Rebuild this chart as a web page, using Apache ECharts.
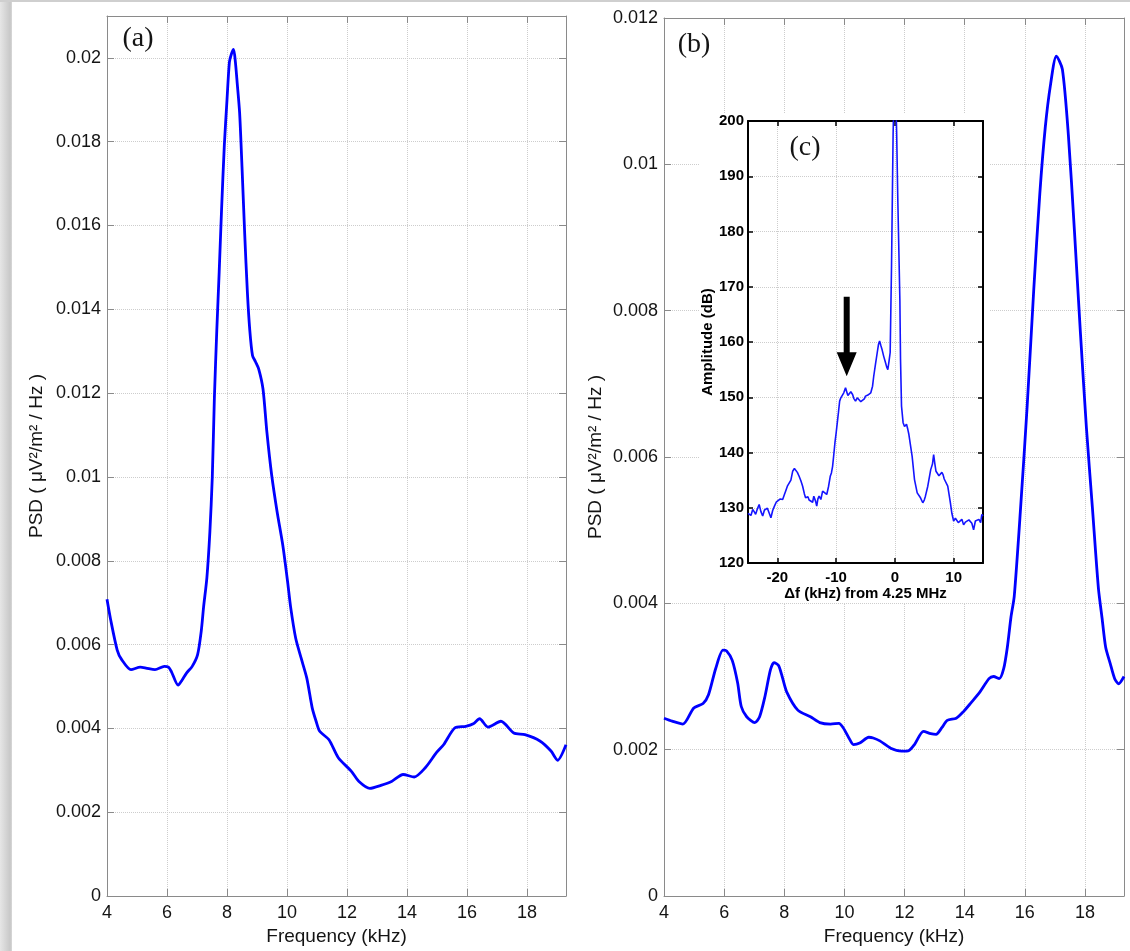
<!DOCTYPE html>
<html>
<head>
<meta charset="utf-8">
<script src="https://cdn.jsdelivr.net/npm/echarts@6/dist/echarts.min.js"></script>
<style>
  html, body { margin: 0; padding: 0; background: #ffffff; }
  #chart { width: 1130px; height: 951px; }
</style>
</head>
<body>
<div id="chart"></div>
<script>
// ---------------- data ----------------
// Panel (a): PSD vs frequency
const freqA = [4.00, 4.12, 4.34, 4.49, 4.80, 5.11, 5.30, 5.60, 5.91, 6.05, 6.15, 6.37, 6.50, 6.65, 6.84, 7.02, 7.14, 7.22,
  7.33, 7.43, 7.51, 7.58, 7.66, 7.74, 7.82, 7.91, 8.00, 8.08, 8.15, 8.22, 8.28, 8.34, 8.42, 8.50, 8.59, 8.68, 8.76, 8.85,
  8.95, 9.06, 9.20, 9.33, 9.49, 9.67, 9.86, 10.02, 10.12, 10.29, 10.47, 10.66, 10.84, 10.97, 11.09, 11.40, 11.71,
  12.14, 12.39, 12.76, 13.13, 13.50, 13.87, 14.24, 14.61, 14.98, 15.22, 15.59, 15.96, 16.21, 16.42, 16.70, 17.13,
  17.56, 17.93, 18.43, 18.80, 19.02, 19.30];
const psdA = [0.00708, 0.0066, 0.00587, 0.00564, 0.00540, 0.00546, 0.00544, 0.00540, 0.00548, 0.00546, 0.00535, 0.00503,
  0.00515, 0.00532, 0.00548, 0.00576, 0.00631, 0.0069, 0.0076, 0.0087, 0.0100, 0.0119, 0.0135, 0.0149, 0.0164,
  0.0179, 0.0190, 0.0199, 0.0201, 0.0202, 0.0199, 0.0194, 0.0187, 0.0174, 0.0158, 0.0144, 0.0135, 0.0129, 0.01275,
  0.01257, 0.0121, 0.01107, 0.01004, 0.00917, 0.00837, 0.0075, 0.0069, 0.00615, 0.00568, 0.0052, 0.00449, 0.00417,
  0.00393, 0.00373, 0.0033, 0.00298, 0.00274, 0.00257, 0.00264, 0.00274, 0.0029, 0.00284, 0.00306, 0.00342, 0.00361,
  0.00401, 0.00405, 0.00411, 0.00423, 0.00403, 0.00417, 0.00389, 0.00385, 0.0037, 0.00346, 0.00324, 0.00361];

// Panel (b): PSD vs frequency
const freqB = [4.00, 4.27, 4.63, 4.99, 5.30, 5.48, 5.72, 5.96, 6.08, 6.27, 6.45, 6.57, 6.75, 7.02, 7.18, 7.36, 7.54, 7.66,
  7.81, 7.93, 8.08, 8.45, 8.87, 9.18, 9.54, 9.82, 9.96, 10.15, 10.30, 10.51, 10.81, 10.96, 11.18, 11.54, 11.90, 12.15,
  12.33, 12.63, 12.87, 13.05, 13.24, 13.42, 13.72, 13.96, 14.21, 14.51, 14.81, 14.96, 15.15, 15.30, 15.42, 15.54,
  15.65, 15.86, 16.08, 16.30, 16.50, 16.68, 16.86, 17.05, 17.25, 17.45, 17.65, 17.85, 18.05, 18.25, 18.45, 18.57,
  18.69, 18.84, 18.99, 19.12, 19.30];
const psdB = [0.00243, 0.00239, 0.00235, 0.00257, 0.00263, 0.00275, 0.00311, 0.00336, 0.00335, 0.00322, 0.00291, 0.00259,
  0.00245, 0.00237, 0.00245, 0.00273, 0.00309, 0.00319, 0.00315, 0.00300, 0.00279, 0.00254, 0.00245, 0.00237, 0.00235,
  0.00236, 0.00230, 0.00216, 0.00207, 0.00209, 0.00217, 0.00216, 0.00212, 0.00202, 0.00198, 0.00199, 0.00207, 0.00225,
  0.00222, 0.00221, 0.00230, 0.00240, 0.00243, 0.00252, 0.00264, 0.00279, 0.00297, 0.00300, 0.00297, 0.00311, 0.00340,
  0.00381, 0.00410, 0.0053, 0.0067, 0.0083, 0.0096, 0.0105, 0.0111, 0.01148, 0.0113, 0.0104, 0.0091, 0.0077, 0.0064,
  0.0053, 0.0042, 0.0038, 0.0034, 0.00318, 0.00297, 0.0029, 0.0030];

// Panel (c) inset: amplitude vs frequency offset from 4.25 MHz
const dfC = [-25.0, -24.8, -24.5, -24.2, -23.9, -23.7, -23.4, -23.1, -22.8, -22.5, -22.2, -22.0, -21.7, -21.4, -21.1,
  -20.8, -20.5, -20.2, -19.9, -19.5, -19.1, -18.8, -18.6, -18.3, -18.0, -17.7, -17.4, -17.1, -16.9, -16.6, -16.3, -16.0,
  -15.7, -15.4, -15.2, -14.8, -14.6, -14.3, -14.0, -13.8, -13.5, -13.3, -13.1, -12.9, -12.6, -12.3, -12.0, -11.6, -11.3,
  -11.0, -10.8, -10.6, -10.4, -10.2, -10.0, -9.8, -9.6, -9.4, -9.2, -8.9, -8.7, -8.4, -8.2, -8.0, -7.8, -7.5, -7.2, -7.0,
  -6.7, -6.4, -6.1, -5.8, -5.5, -5.2, -5.0, -4.6, -4.1, -3.8, -3.6, -3.3, -3.0, -2.8, -2.6, -2.4, -2.2, -1.9, -1.6, -1.4,
  -1.2, -1.0, -0.8, -0.57, -0.3, 0.0, 0.3, 0.5, 0.85, 0.96, 1.13, 1.4, 1.64, 1.98, 2.2, 2.38, 2.66, 2.94, 3.34, 3.8, 4.1,
  4.36, 4.75, 5.0, 5.2, 5.6, 6.1, 6.4, 6.6, 6.8, 7.0, 7.3, 7.5, 7.75, 8.0, 8.2, 8.4, 8.6, 9.0, 9.45, 9.7, 10.0, 10.3,
  10.6, 10.8, 11.1, 11.4, 11.7, 12.0, 12.3, 12.6, 12.8, 13.1, 13.4, 13.7, 14.0, 14.3, 14.6, 14.8, 15.0];
const ampC = [129.0, 129.1, 128.6, 129.7, 129.2, 128.8, 129.8, 130.6, 129.3, 128.5, 129.6, 129.4, 129.9, 129.7, 128.2,
  129.5, 130.3, 131.0, 131.2, 131.6, 131.5, 132.4, 133.0, 133.9, 133.6, 135.0, 136.6, 137.1, 136.9, 136.4, 135.7, 134.9,
  133.9, 132.5, 131.8, 132.0, 131.4, 131.5, 131.0, 132.1, 131.2, 130.3, 131.6, 132.1, 131.5, 133.0, 132.8, 132.4, 133.8,
  135.7, 136.3, 137.5, 139.6, 141.8, 143.5, 145.4, 147.3, 149.3, 149.9, 150.2, 150.8, 151.7, 151.0, 150.3, 150.5, 151.0,
  150.5, 149.8, 149.3, 149.9, 149.6, 149.2, 149.0, 149.7, 150.2, 150.4, 150.8, 152.0, 153.8, 156.0, 158.1, 159.5, 160.2,
  159.4, 158.7, 157.4, 156.3, 155.5, 155.0, 156.5, 158.1, 173.7, 197.7, 212.0, 198.0, 185.7, 167.7, 156.9, 148.4, 145.4,
  144.7, 145.1, 144.2, 143.3, 143.0, 139.3, 135.1, 132.7, 132.5, 131.8, 130.9, 131.4, 132.1, 133.9, 136.9, 137.9, 139.6,
  138.0, 136.6, 136.9, 135.8, 135.7, 136.4, 136.0, 135.2, 135.1, 133.9, 130.9, 129.0, 127.6, 128.1, 127.9, 127.3, 127.6,
  127.9, 126.9, 127.4, 127.6, 127.8, 127.9, 127.2, 126.0, 127.6, 127.4, 127.9, 127.3, 128.8, 128.5];

// Arrow in inset: [x (kHz), start dB, tip dB]
const arrowC = [-8.2, 168.2, 153.8];

const panelLabels = ['(a)', '(b)', '(c)'];
const xNameMain = 'Frequency (kHz)';
const yNameMain = 'PSD ( \u03bcV\u00b2/m\u00b2 / Hz )';
const xNameInset = '\u0394f (kHz) from 4.25 MHz';
const yNameInset = 'Amplitude (dB)';

// ---------------- styles ----------------
const AX = '#8a8a8a';
const TXT = '#141414';
const GRIDC = '#cdcdcd';
const BLUE = '#0000ff';
const SANS = 'Liberation Sans';

const zip = (xs, ys) => xs.map((x, i) => [x, ys[i]]);
const fmt = v => String(+(+v).toFixed(4));

function mainX(gi, pos, primary) {
  return {
    type: 'value', gridIndex: gi, position: pos, min: 4, max: 19.3, interval: 2, z: 1,
    axisLine: { show: true, onZero: false, lineStyle: { color: AX, width: 1 } },
    axisTick: { show: true, inside: true, length: 7, lineStyle: { color: AX, width: 1 } },
    axisLabel: { show: primary, margin: 8, color: TXT, fontSize: 18, fontFamily: SANS, showMaxLabel: false },
    splitLine: { show: primary, lineStyle: { color: GRIDC, type: 'dotted', width: 1 } },
    name: primary ? xNameMain : '', nameLocation: 'middle', nameGap: 31,
    nameTextStyle: { color: TXT, fontSize: 19, fontFamily: SANS }
  };
}
function mainY(gi, pos, primary, max, gap) {
  return {
    type: 'value', gridIndex: gi, position: pos, min: 0, max: max, interval: 0.002, z: 1,
    axisLine: { show: true, onZero: false, lineStyle: { color: AX, width: 1 } },
    axisTick: { show: true, inside: true, length: 7, lineStyle: { color: AX, width: 1 } },
    axisLabel: { show: primary, margin: 6, color: TXT, fontSize: 18, fontFamily: SANS, formatter: fmt,
      showMaxLabel: max === 0.012 },
    splitLine: { show: primary, lineStyle: { color: GRIDC, type: 'dotted', width: 1 } },
    name: primary ? yNameMain : '', nameLocation: 'middle', nameGap: gap, nameRotate: 90,
    nameTextStyle: { color: TXT, fontSize: 19, fontFamily: SANS }
  };
}
function insetX(pos, primary) {
  return {
    type: 'value', gridIndex: 2, position: pos, min: -25, max: 15, splitNumber: 4, z: 11,
    axisLine: { show: true, onZero: false, lineStyle: { color: '#000', width: 2 } },
    axisTick: { show: true, inside: true, length: 5, lineStyle: { color: '#000', width: 1.5 } },
    axisLabel: { show: primary, margin: 7, color: '#000', fontSize: 15, fontWeight: 'bold', fontFamily: SANS,
      showMinLabel: false, showMaxLabel: false },
    splitLine: { show: primary, lineStyle: { color: GRIDC, type: 'dotted', width: 1 } },
    name: primary ? xNameInset : '', nameLocation: 'middle', nameGap: 21,
    nameTextStyle: { color: '#000', fontSize: 15, fontWeight: 'bold', fontFamily: SANS }
  };
}
function insetY(pos, primary) {
  return {
    type: 'value', gridIndex: 2, position: pos, min: 120, max: 200, interval: 10, z: 11,
    axisLine: { show: true, onZero: false, lineStyle: { color: '#000', width: 2 } },
    axisTick: { show: true, inside: true, length: 5, lineStyle: { color: '#000', width: 1.5 } },
    axisLabel: { show: primary, margin: 4, color: '#000', fontSize: 15, fontWeight: 'bold', fontFamily: SANS },
    splitLine: { show: primary, lineStyle: { color: GRIDC, type: 'dotted', width: 1 } },
    name: primary ? yNameInset : '', nameLocation: 'middle', nameGap: 33, nameRotate: 90,
    nameTextStyle: { color: '#000', fontSize: 15, fontWeight: 'bold', fontFamily: SANS }
  };
}

const chart = echarts.init(document.getElementById('chart'), null, { renderer: 'canvas' });

const option = {
  backgroundColor: '#ffffff',
  animation: false,
  grid: [
    { left: 107, top: 16, width: 459, height: 883, containLabel: false },
    { left: 664, top: 18, width: 460, height: 882, containLabel: false },
    { left: 748, top: 121, width: 235, height: 442, containLabel: false, z: 11 }
  ],
  xAxis: [
    mainX(0, 'bottom', true), mainX(0, 'top', false),
    mainX(1, 'bottom', true), mainX(1, 'top', false),
    insetX('bottom', true), insetX('top', false)
  ],
  yAxis: [
    mainY(0, 'left', true, 0.021, 61), mainY(0, 'right', false, 0.021, 61),
    mainY(1, 'left', true, 0.012, 59), mainY(1, 'right', false, 0.012, 59),
    insetY('left', true), insetY('right', false)
  ],
  graphic: [
    { type: 'rect', x: 0, y: 0, shape: { x: 0, y: 0, width: 12, height: 951 }, z: 0, silent: true,
      style: { fill: new echarts.graphic.LinearGradient(0, 0, 1, 0, [
        { offset: 0, color: '#e6e6e6' }, { offset: 0.85, color: '#c8c8c8' }, { offset: 1, color: '#d8d8d8' }]) } },
    { type: 'rect', x: 0, y: 0, shape: { x: 0, y: 0, width: 1130, height: 2 }, z: 0, silent: true,
      style: { fill: '#cfcfcf' } },
    { type: 'rect', x: 0, y: 0, shape: { x: 699, y: 113, width: 290, height: 490 }, z: 10, silent: true,
      style: { fill: '#ffffff' } },
    { type: 'text', x: 138, y: 39, z: 20, silent: true,
      style: { text: panelLabels[0], font: '28px "Liberation Serif"', fill: TXT, textAlign: 'center', textVerticalAlign: 'middle' } },
    { type: 'text', x: 694, y: 45, z: 20, silent: true,
      style: { text: panelLabels[1], font: '28px "Liberation Serif"', fill: TXT, textAlign: 'center', textVerticalAlign: 'middle' } },
    { type: 'text', x: 805, y: 148, z: 20, silent: true,
      style: { text: panelLabels[2], font: '28px "Liberation Serif"', fill: TXT, textAlign: 'center', textVerticalAlign: 'middle' } }
  ],
  series: [
    { type: 'line', xAxisIndex: 0, yAxisIndex: 0, data: zip(freqA, psdA), showSymbol: false, z: 2,
      smooth: 0.25, lineStyle: { color: BLUE, width: 2.8 } },
    { type: 'line', xAxisIndex: 2, yAxisIndex: 2, data: zip(freqB, psdB), showSymbol: false, z: 2,
      smooth: 0.25, lineStyle: { color: BLUE, width: 2.8 } },
    { type: 'line', xAxisIndex: 4, yAxisIndex: 4, data: zip(dfC, ampC), showSymbol: false, z: 12, clip: true,
      lineStyle: { color: '#1414ff', width: 1.6 } },
    { type: 'custom', xAxisIndex: 4, yAxisIndex: 4, data: [arrowC], z: 13, silent: true, clip: false,
      renderItem: function (params, api) {
        const top = api.coord([api.value(0), api.value(1)]);
        const tip = api.coord([api.value(0), api.value(2)]);
        const headH = 24, headW = 10, shaftW = 3;
        const x = top[0];
        return {
          type: 'polygon',
          shape: { points: [
            [x - shaftW, top[1]], [x + shaftW, top[1]], [x + shaftW, tip[1] - headH],
            [x + headW, tip[1] - headH], [x, tip[1]], [x - headW, tip[1] - headH], [x - shaftW, tip[1] - headH]
          ] },
          style: { fill: '#000000' }
        };
      } }
  ]
};
chart.setOption(option);
</script>
</body>
</html>
